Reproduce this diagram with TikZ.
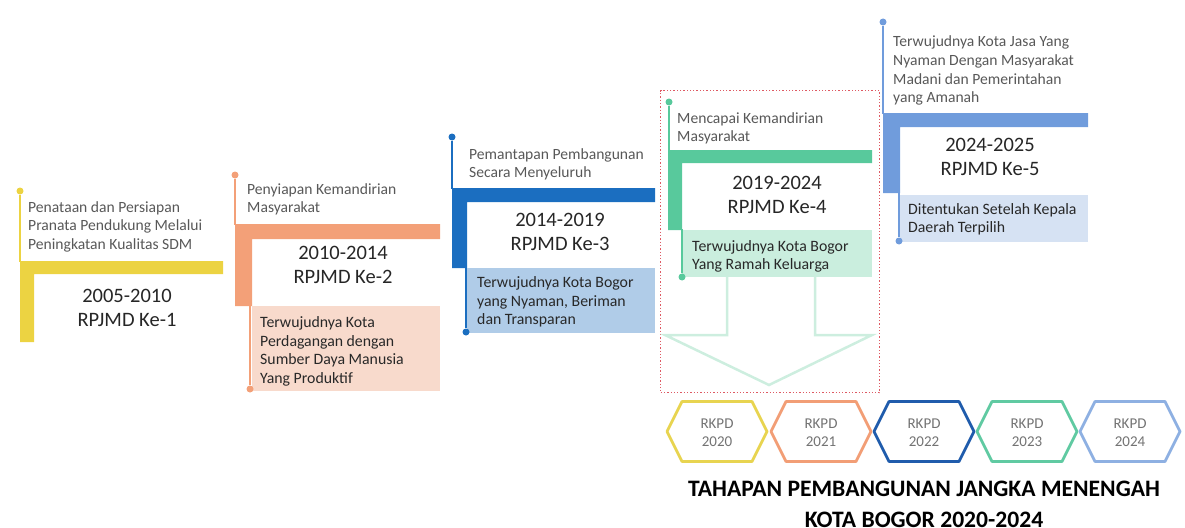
\documentclass[tikz,border=0pt]{standalone}
\usepackage{fontspec}
\setmainfont{Carlito}
\definecolor{cyel}{RGB}{236,211,66}
\definecolor{cora}{RGB}{243,160,120}
\definecolor{coral}{RGB}{248,218,204}
\definecolor{cblu}{RGB}{27,110,192}
\definecolor{cblul}{RGB}{176,204,232}
\definecolor{cgrn}{RGB}{88,201,156}
\definecolor{cgrnl}{RGB}{202,238,222}
\definecolor{ccor}{RGB}{112,156,220}
\definecolor{ccorl}{RGB}{214,226,243}
\definecolor{cred}{RGB}{222,90,100}
\definecolor{carrow}{RGB}{205,238,223}
\definecolor{hyel}{RGB}{232,212,80}
\definecolor{hora}{RGB}{242,158,118}
\definecolor{hblu}{RGB}{32,92,172}
\definecolor{hgrn}{RGB}{96,202,162}
\definecolor{hlbl}{RGB}{142,176,226}
\definecolor{tdesc}{RGB}{88,88,88}
\definecolor{ttitle}{RGB}{38,38,38}
\definecolor{tbox}{RGB}{40,40,40}
\begin{document}
\begin{tikzpicture}[x=1pt,y=-1pt,
  desc/.style={anchor=base west,align=left,inner sep=0pt,text=tdesc,font=\fontsize{15.6}{18.5}\selectfont},
  boxtext/.style={anchor=base west,align=left,inner sep=0pt,text=tbox,font=\fontsize{15.8}{18.5}\selectfont},
  ttl/.style={anchor=base,align=center,inner sep=0pt,text=ttitle,font=\fontsize{20.5}{24}\selectfont},
  dot/.style={circle,inner sep=0pt,minimum size=7pt,fill=#1},
  thin/.style={draw=#1,line width=1.5pt},
  hexlbl/.style={anchor=base,align=center,inner sep=0pt,text=black!55,font=\fontsize{15}{18}\selectfont},
  hex/.style={draw=#1,line width=2.8pt,fill=white,line join=round}
]
\useasboundingbox (0,0) rectangle (1185,527);

% ---------- Element 1 (yellow)
\node[dot=cyel] (d1t) at (20,191) {};
\coordinate (b1t) at (20,262);
\draw[thin=cyel] (d1t) -- (b1t);
\fill[cyel] (20,261) -- (223,261) -- (223,274) -- (34,274) -- (34,342) -- (20,342) -- cycle;
\node[desc] (t1) at (28,249) {Penataan dan Persiapan\\Pranata Pendukung Melalui\\Peningkatan Kualitas SDM};
\node[ttl] (y1) at (127,326) {2005-2010\\RPJMD Ke-1};

% ---------- Element 2 (orange)
\node[dot=cora] (d2t) at (235,175) {};
\coordinate (b2t) at (235,225);
\draw[thin=cora] (d2t) -- (b2t);
\fill[cora] (235,224) -- (440,224) -- (440,239) -- (252,239) -- (252,306) -- (235,306) -- cycle;
\node[desc] (t2) at (247,212.5) {Penyiapan Kemandirian\\Masyarakat};
\node[ttl] (y2) at (343,283.5) {2010-2014\\RPJMD Ke-2};
\node[fill=coral,minimum width=188pt,minimum height=85pt,inner sep=0pt,anchor=north west] (g2) at (252,306) {};
\node[boxtext] (x2) at (260,383) {Terwujudnya Kota\\Perdagangan dengan\\Sumber Daya Manusia\\Yang Produktif};
\node[dot=cora] (d2b) at (250,389) {};
\coordinate (b2b) at (250,305);
\draw[thin=cora] (b2b) -- (d2b);

% ---------- Element 3 (blue)
\node[dot=cblu] (d3t) at (452,137) {};
\coordinate (b3t) at (452,189);
\draw[thin=cblu] (d3t) -- (b3t);
\fill[cblu] (452,188) -- (655,188) -- (655,202) -- (467,202) -- (467,268) -- (452,268) -- cycle;
\node[desc] (t3) at (469,177.5) {Pemantapan Pembangunan\\Secara Menyeluruh};
\node[ttl] (y3) at (560,250.5) {2014-2019\\RPJMD Ke-3};
\node[fill=cblul,minimum width=188pt,minimum height=65pt,inner sep=0pt,anchor=north west] (g3) at (467,268) {};
\node[boxtext] (x3) at (477,324.5) {Terwujudnya Kota Bogor\\yang Nyaman, Beriman\\dan Transparan};
\node[dot=cblu] (d3b) at (466,332) {};
\coordinate (b3b) at (466,267);
\draw[thin=cblu] (b3b) -- (d3b);

% ---------- Element 4 (green) with frame and arrow
\node[draw=cred,dotted,line width=1.3pt,minimum width=219pt,minimum height=302pt,inner sep=0pt,anchor=north west] (frame) at (660,90) {};
\draw[draw=carrow,line width=2.5pt,fill=white,line join=miter]
  (727,277) -- (727,335) -- (665,335) -- (769,385) -- (872,335) -- (815,335) -- (815,277);
\node[dot=cgrn] (d4t) at (669,102) {};
\coordinate (b4t) at (669,151);
\draw[thin=cgrn] (d4t) -- (b4t);
\fill[cgrn] (668,150) -- (872,150) -- (872,163) -- (682,163) -- (682,230) -- (668,230) -- cycle;
\node[desc] (t4) at (677,141.5) {Mencapai Kemandirian\\Masyarakat};
\node[ttl] (y4) at (777,213.5) {2019-2024\\RPJMD Ke-4};
\node[fill=cgrnl,minimum width=190pt,minimum height=47pt,inner sep=0pt,anchor=north west] (g4) at (682,230) {};
\node[boxtext] (x4) at (692,269.5) {Terwujudnya Kota Bogor\\Yang Ramah Keluarga};
\node[dot=cgrn] (d4b) at (682,277) {};
\coordinate (b4b) at (682,229);
\draw[thin=cgrn] (b4b) -- (d4b);

% ---------- Element 5 (cornflower)
\node[dot=ccor] (d5t) at (883,22) {};
\coordinate (b5t) at (883,114);
\draw[thin=ccor] (d5t) -- (b5t);
\fill[ccor] (883,113) -- (1088,113) -- (1088,127) -- (900,127) -- (900,193) -- (883,193) -- cycle;
\node[desc] (t5) at (893,102.5) {Terwujudnya Kota Jasa Yang\\Nyaman Dengan Masyarakat\\Madani dan Pemerintahan\\yang Amanah};
\node[ttl] (y5) at (990,175.5) {2024-2025\\RPJMD Ke-5};
\node[fill=ccorl,minimum width=188pt,minimum height=47pt,inner sep=0pt,anchor=north west] (g5) at (900,195) {};
\node[boxtext] (x5) at (908,232.5) {Ditentukan Setelah Kepala\\Daerah Terpilih};
\node[dot=ccor] (d5b) at (899,241) {};
\coordinate (b5b) at (899,193);
\draw[thin=ccor] (b5b) -- (d5b);

% ---------- Hexagons
\foreach \cx/\col/\yr/\nm in {717/hyel/2020/h1, 821/hora/2021/h2, 924/hblu/2022/h3, 1027/hgrn/2023/h4, 1130/hlbl/2024/h5}{
  \coordinate (\nm) at (\cx,431.5);
  \draw[hex=\col] ([shift={(-50,0)}]\nm) -- ([shift={(-35,-30)}]\nm) -- ([shift={(35,-30)}]\nm)
     -- ([shift={(50,0)}]\nm) -- ([shift={(35,30)}]\nm) -- ([shift={(-35,30)}]\nm) -- cycle;
  \node[hexlbl] (\nm l) at (\cx,446) {RKPD\\\yr};
}

% ---------- Title
\node[anchor=base,align=center,inner sep=0pt,text=black,font=\bfseries\fontsize{23.6}{31}\selectfont] (title) at (924,527) {TAHAPAN PEMBANGUNAN JANGKA MENENGAH\\KOTA BOGOR 2020-2024};
\end{tikzpicture}
\end{document}
